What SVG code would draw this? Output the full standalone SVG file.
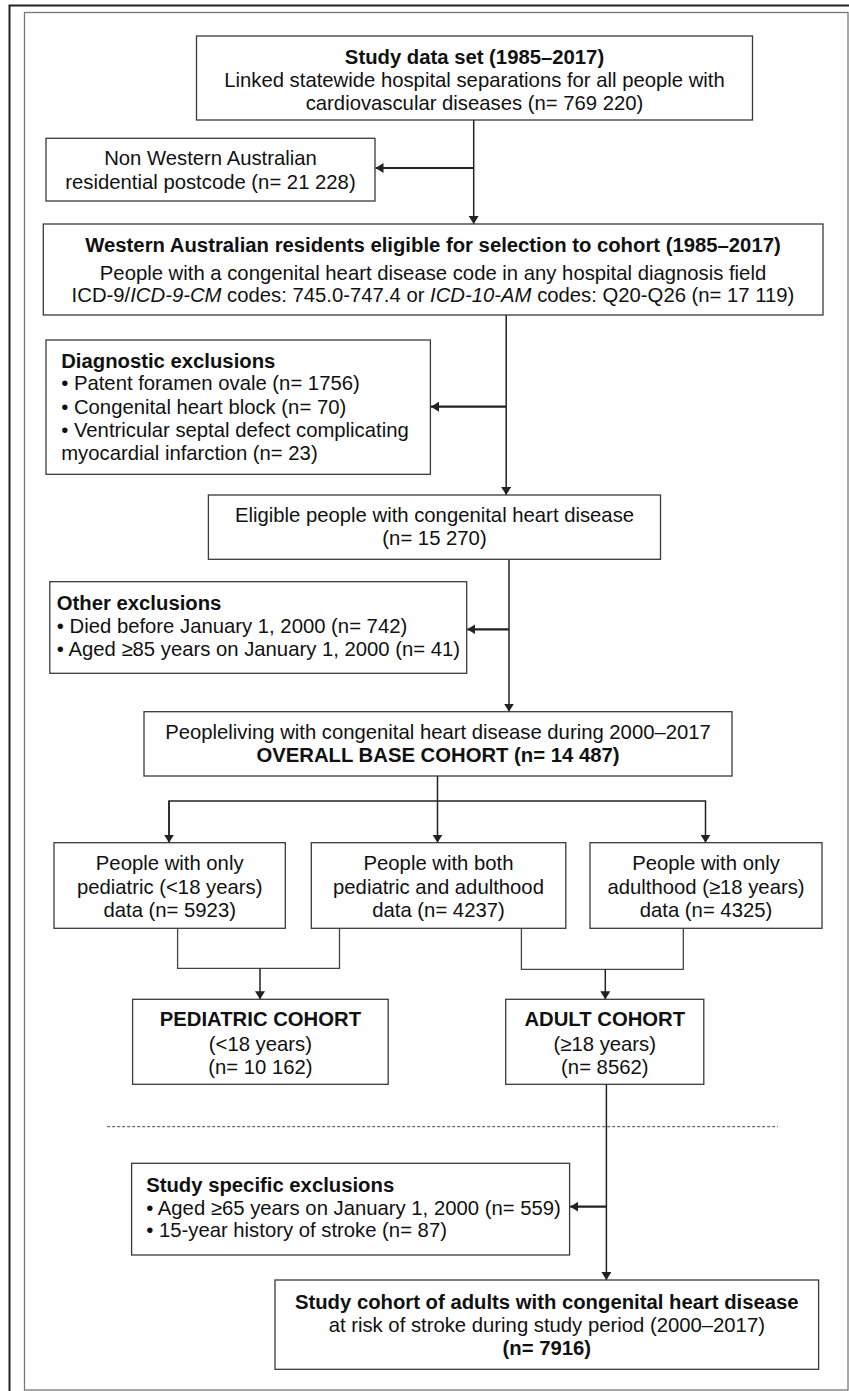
<svg xmlns="http://www.w3.org/2000/svg" width="849" height="1391" viewBox="0 0 849 1391">
<style>
.box{fill:#fff;stroke:#3a3a3a;stroke-width:1.3}
.t{font-family:"Liberation Sans",Arial,sans-serif;font-size:20.3px;fill:#111}
.c{text-anchor:middle}
.b{font-weight:bold}
.i{font-style:italic}
.ln{fill:none;stroke:#222;stroke-width:1.5}
.sd{fill:none;stroke:#222;stroke-width:2.2}
.mg{fill:none;stroke:#444;stroke-width:1.3}
</style>
<defs>
<marker id="ah" viewBox="0 0 8 10" refX="8" refY="5" markerWidth="8" markerHeight="10" markerUnits="userSpaceOnUse" orient="auto">
<path d="M0,0 L8,5 L0,10 z" fill="#222"/>
</marker>
</defs>
<rect width="849" height="1391" fill="#fff"/>
<rect x="9.5" y="5.5" width="850" height="1400" fill="none" stroke="#222" stroke-width="2"/>
<rect x="24.5" y="12.5" width="823.5" height="1377.5" fill="none" stroke="#777" stroke-width="1.3"/>

<g id="connectors">
<line class="ln" x1="473.7" y1="120" x2="473.7" y2="224" marker-end="url(#ah)"/>
<line class="sd" x1="473.7" y1="168" x2="375.5" y2="168" marker-end="url(#ah)"/>
<line class="ln" x1="506.2" y1="315" x2="506.2" y2="495" marker-end="url(#ah)"/>
<line class="sd" x1="506.2" y1="406.7" x2="431" y2="406.7" marker-end="url(#ah)"/>
<line class="ln" x1="509" y1="559.3" x2="509" y2="711.7" marker-end="url(#ah)"/>
<line class="sd" x1="509" y1="629.3" x2="467.3" y2="629.3" marker-end="url(#ah)"/>
<polyline class="ln" points="437.5,776 437.5,801"/>
<polyline class="ln" points="169,842.7 169,801 705.5,801 705.5,842.7" marker-end="url(#ah)"/>
<line class="ln" x1="169" y1="801" x2="169" y2="842.7" marker-end="url(#ah)"/>
<line class="ln" x1="437.5" y1="801" x2="437.5" y2="842.7" marker-end="url(#ah)"/>
<polyline class="mg" points="177.6,928.3 177.6,968.3 339.5,968.3 339.5,928.3"/>
<line class="ln" x1="260" y1="968.3" x2="260" y2="999.3" marker-end="url(#ah)"/>
<polyline class="mg" points="521.4,928.3 521.4,969.3 683.3,969.3 683.3,928.3"/>
<line class="ln" x1="605.3" y1="969.3" x2="605.3" y2="999.3" marker-end="url(#ah)"/>
<line class="ln" x1="606.4" y1="1084.3" x2="606.4" y2="1280" marker-end="url(#ah)"/>
<line class="sd" x1="606.4" y1="1206.7" x2="570.2" y2="1206.7" marker-end="url(#ah)"/>
<line x1="107.2" y1="1126.7" x2="778" y2="1126.7" stroke="#444" stroke-width="1" stroke-dasharray="3,2"/>
</g>

<g id="n1">
<rect class="box" x="196.5" y="36" width="556" height="84"/>
<text class="t c b" x="474.5" y="63.7">Study data set (1985–2017)</text>
<text class="t c" x="474.5" y="87">Linked statewide hospital separations for all people with</text>
<text class="t c" x="474.5" y="110.3">cardiovascular diseases (n= 769 220)</text>
</g>

<g id="n2">
<rect class="box" x="46" y="138.3" width="329" height="62.7"/>
<text class="t c" x="210.5" y="165">Non Western Australian</text>
<text class="t c" x="210.5" y="189">residential postcode (n= 21 228)</text>
</g>

<g id="n3">
<rect class="box" x="43.3" y="224" width="779.7" height="91"/>
<text class="t c b" x="433" y="252">Western Australian residents eligible for selection to cohort (1985–2017)</text>
<text class="t c" x="433" y="279.7">People with a congenital heart disease code in any hospital diagnosis field</text>
<text class="t c" x="433" y="302">ICD-9/<tspan class="i">ICD-9-CM</tspan> codes: 745.0-747.4 or <tspan class="i">ICD-10-AM</tspan> codes: Q20-Q26 (n= 17 119)</text>
</g>

<g id="n4">
<rect class="box" x="46" y="340" width="384.4" height="134.3"/>
<text class="t b" x="61.2" y="368">Diagnostic exclusions</text>
<text class="t" x="61.2" y="390.3">• Patent foramen ovale (n= 1756)</text>
<text class="t" x="61.2" y="413.7">• Congenital heart block (n= 70)</text>
<text class="t" x="61.2" y="437">• Ventricular septal defect complicating</text>
<text class="t" x="61.2" y="460.3">myocardial infarction (n= 23)</text>
</g>

<g id="n5">
<rect class="box" x="208.4" y="495" width="452.1" height="64.3"/>
<text class="t c" x="434.5" y="522">Eligible people with congenital heart disease</text>
<text class="t c" x="434.5" y="545.3">(n= 15 270)</text>
</g>

<g id="n6">
<rect class="box" x="49.8" y="581.7" width="416.9" height="91.6"/>
<text class="t b" x="56.8" y="610.3">Other exclusions</text>
<text class="t" x="56.8" y="633">• Died before January 1, 2000 (n= 742)</text>
<text class="t" x="56.8" y="656.3">• Aged ≥85 years on January 1, 2000 (n= 41)</text>
</g>

<g id="n7">
<rect class="box" x="144" y="711.7" width="588" height="64.3"/>
<text class="t c" x="438" y="738.7">Peopleliving with congenital heart disease during 2000–2017</text>
<text class="t c b" x="438" y="762">OVERALL BASE COHORT (n= 14 487)</text>
</g>

<g id="n8">
<rect class="box" x="54" y="842.7" width="231.3" height="85.6"/>
<text class="t c" x="169.7" y="870.3">People with only</text>
<text class="t c" x="169.7" y="893.7">pediatric (&lt;18 years)</text>
<text class="t c" x="169.7" y="917">data (n= 5923)</text>
</g>

<g id="n9">
<rect class="box" x="311.3" y="842.7" width="254.5" height="85.6"/>
<text class="t c" x="438.5" y="870.3">People with both</text>
<text class="t c" x="438.5" y="893.7">pediatric and adulthood</text>
<text class="t c" x="438.5" y="917">data (n= 4237)</text>
</g>

<g id="n10">
<rect class="box" x="590" y="842.7" width="232" height="85.6"/>
<text class="t c" x="706" y="870.3">People with only</text>
<text class="t c" x="706" y="893.7">adulthood (≥18 years)</text>
<text class="t c" x="706" y="917">data (n= 4325)</text>
</g>

<g id="n11">
<rect class="box" x="132.6" y="999.3" width="255.6" height="85"/>
<text class="t c b" x="260.4" y="1026">PEDIATRIC COHORT</text>
<text class="t c" x="260.4" y="1050.8">(&lt;18 years)</text>
<text class="t c" x="260.4" y="1073.7">(n= 10 162)</text>
</g>

<g id="n12">
<rect class="box" x="505.7" y="999.3" width="198.1" height="85"/>
<text class="t c b" x="604.8" y="1026">ADULT COHORT</text>
<text class="t c" x="604.8" y="1050.8">(≥18 years)</text>
<text class="t c" x="604.8" y="1073.7">(n= 8562)</text>
</g>

<g id="n13">
<rect class="box" x="131.6" y="1163.3" width="438" height="91.7"/>
<text class="t b" x="146.2" y="1192">Study specific exclusions</text>
<text class="t" x="146.2" y="1215.3">• Aged ≥65 years on January 1, 2000 (n= 559)</text>
<text class="t" x="146.2" y="1237">• 15-year history of stroke (n= 87)</text>
</g>

<g id="n14">
<rect class="box" x="275" y="1280" width="543.6" height="89.3"/>
<text class="t c b" x="546.8" y="1308.7">Study cohort of adults with congenital heart disease</text>
<text class="t c" x="546.8" y="1332">at risk of stroke during study period (2000–2017)</text>
<text class="t c b" x="546.8" y="1355.3">(n= 7916)</text>
</g>
</svg>
